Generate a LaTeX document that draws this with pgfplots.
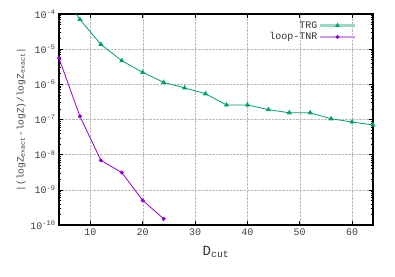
\documentclass[border=0pt]{standalone}
\usepackage{fontspec}
\setmainfont{Liberation Mono}
\usepackage{pgfplots}
\pgfplotsset{compat=1.18}
\definecolor{trg}{RGB}{0,158,115}
\definecolor{tnr}{RGB}{148,0,211}

\pgfplotstableread{
D err
4 5.3e-4
8 7.0e-5
12 1.37e-5
16 4.7e-6
20 2.19e-6
24 1.14e-6
28 7.9e-7
32 5.4e-7
36 2.6e-7
40 2.6e-7
44 1.91e-7
48 1.55e-7
52 1.55e-7
56 1.05e-7
60 8.5e-8
64 7.0e-8
}\trgdata

\pgfplotstableread{
D err
4 5.5e-6
8 1.23e-7
12 6.9e-9
16 3.1e-9
20 5.0e-10
24 1.5e-10
}\tnrdata

\begin{document}
\begin{tikzpicture}
\begin{axis}[
  scale only axis, width=314pt, height=211pt,
  ymode=log, log basis y=10,
  xmin=4, xmax=64, ymin=1e-10, ymax=1e-4,
  xtick={10,20,30,40,50,60},
  yticklabel={10\textsuperscript{\pgfmathparse{int(round(\tick))}\pgfmathresult}},
  /pgf/number format/assume math mode=true,
  tick label style={font=\fontsize{10}{12}\selectfont, text=black!75},
  axis line style={line width=1.1pt},
  tick style={black, line width=0.6pt},
  major tick length=4pt, minor tick length=2pt,
  tick pos=both,
  grid=major,
  major grid style={densely dotted, gray!55, line width=0.4pt},
  xlabel={D\textsubscript{cut}},
  xlabel style={font=\fontsize{14}{16}\selectfont, text=black!80, yshift=-4pt},
  ylabel={|(logZ\textsubscript{exact}-logZ)/logZ\textsubscript{exact}|},
  ylabel style={font=\fontsize{9.5}{11}\selectfont, text=black!75, yshift=-2pt},
  legend style={draw=none, fill=none, font=\fontsize{10}{12}\selectfont, text=black!80,
    legend cell align=right, at={(0.955,0.985)}, anchor=north east, row sep=-1pt},
  legend plot pos=right,
]
\addplot[trg, line width=0.8pt, mark=triangle*, mark size=2.2pt,
  legend image code/.code={
    \draw[trg!40, line width=2.2pt] (0cm,0cm) -- (1.2cm,0cm);
    \draw[trg, mark=triangle*, mark size=2pt] plot coordinates {(0.6cm,0cm)};
  }] table[x=D, y=err] {\trgdata};
\addlegendentry{TRG}
\addplot[tnr, line width=0.8pt, mark=*, mark size=1.6pt,
  legend image code/.code={
    \draw[tnr!40, line width=2.2pt] (0cm,0cm) -- (1.2cm,0cm);
    \draw[tnr, mark=*, mark size=1.5pt] plot coordinates {(0.6cm,0cm)};
  }] table[x=D, y=err] {\tnrdata};
\addlegendentry{loop-TNR}
\end{axis}
\path (current axis.south west) ++(-59pt,-51pt) rectangle ++(395pt,276pt);
\end{tikzpicture}
\end{document}
